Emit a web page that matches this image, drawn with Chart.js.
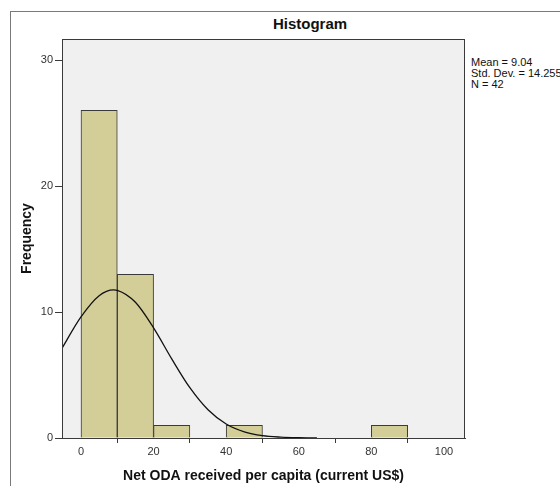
<!DOCTYPE html>
<html>
<head>
<meta charset="utf-8">
<script src="https://cdn.jsdelivr.net/npm/chart.js@4"></script>
<style>
  html, body { margin: 0; padding: 0; background: #fff; }
  #wrap { position: relative; width: 560px; height: 486px; overflow: hidden; }
  #frame { position: absolute; left: 10px; top: 11px; width: 600px; height: 600px;
           border-left: 1px solid #7a7a7a; border-top: 1px solid #7a7a7a; }
  #title { position: absolute; left: 200px; width: 220px; top: 15px; text-align: center;
           font: bold 15px "Liberation Sans", Arial, sans-serif; color: #111; }
  #stats { position: absolute; left: 471px; top: 57px; white-space: nowrap;
           font: 11px "Liberation Sans", Arial, sans-serif; color: #111; line-height: 11px; }
  canvas { position: absolute; left: 0; top: 0; }
</style>
</head>
<body>
<div id="wrap">
  <div id="frame"></div>
  <div id="title">Histogram</div>
  <div id="stats">Mean = 9.04<br>Std. Dev. = 14.255<br>N = 42</div>
  <canvas id="hist" width="560" height="486"></canvas>
</div>
<script>
// bins (centre of each 10-wide bin) and their counts
const binCenters = [5, 15, 25, 45, 85];
const counts = [26, 13, 1, 1, 1];

// fitted normal curve
const curveX = [-5.3, -5, 0, 5, 9, 10, 15, 20, 25, 30, 35, 40, 45, 50, 55, 60, 65];
const curveY = [7.08, 7.23, 9.61, 11.29, 11.75, 11.72, 10.77, 8.74, 6.28, 3.99, 2.24, 1.11, 0.49, 0.19, 0.07, 0.02, 0.0];

const xTicks = [0, 20, 40, 60, 80, 100];
const yTicks = [0, 10, 20, 30];

const plotBox = {
    id: 'plotBox',
    beforeDraw(chart) {
        const { ctx, chartArea: a } = chart;
        ctx.save();
        ctx.fillStyle = '#f0f0f0';
        ctx.fillRect(a.left, a.top, a.right - a.left, a.bottom - a.top);
        ctx.restore();
    },
    afterDraw(chart) {
        const { ctx, chartArea: a } = chart;
        ctx.save();
        ctx.strokeStyle = '#3a3a3a';
        ctx.lineWidth = 1;
        ctx.strokeRect(a.left + 0.5, a.top + 0.5, a.right - a.left - 1, a.bottom - a.top);
        ctx.restore();
    }
};

const tickFont = { family: 'Liberation Sans', size: 11 };

new Chart(document.getElementById('hist'), {
    type: 'bar',
    data: {
        datasets: [{
            type: 'line',
            data: curveX.map((x, i) => ({ x: x, y: curveY[i] })),
            borderColor: '#111',
            borderWidth: 1.3,
            pointRadius: 0,
            tension: 0.4,
            cubicInterpolationMode: 'monotone',
            order: 0
        }, {
            data: binCenters.map((x, i) => ({ x: x, y: counts[i] })),
            backgroundColor: '#d3ce97',
            borderColor: '#3a3a3a',
            borderWidth: 1,
            borderSkipped: 'bottom',
            barPercentage: 1,
            categoryPercentage: 1,
            order: 1
        }]
    },
    options: {
        responsive: false,
        animation: false,
        layout: { padding: { top: 39, right: 95, left: 0, bottom: 0 } },
        plugins: { legend: { display: false }, tooltip: { enabled: false } },
        scales: {
            x: {
                type: 'linear',
                min: -5.23,
                max: 105.8,
                offset: false,
                afterBuildTicks(s) { s.ticks = xTicks.map(v => ({ value: v })); },
                afterFit(s) { s.height = 48; },
                grid: { drawOnChartArea: false, tickLength: 5, color: '#3a3a3a' },
                border: { color: '#3a3a3a' },
                ticks: { font: tickFont, color: '#333', padding: 2, maxRotation: 0 },
                title: {
                    display: true,
                    text: 'Net ODA received per capita (current US$)',
                    font: { family: 'Liberation Sans', size: 14, weight: 'bold' },
                    color: '#111',
                    padding: { top: 4, bottom: 1 }
                }
            },
            y: {
                min: 0,
                max: 31.67,
                afterBuildTicks(s) { s.ticks = yTicks.map(v => ({ value: v })); },
                afterFit(s) { s.width = 62; },
                grid: { drawOnChartArea: false, tickLength: 7, color: '#3a3a3a' },
                border: { color: '#3a3a3a' },
                ticks: { font: tickFont, color: '#333', padding: 2 },
                title: {
                    display: true,
                    text: 'Frequency',
                    font: { family: 'Liberation Sans', size: 14, weight: 'bold' },
                    color: '#111',
                    padding: { top: 19, bottom: 0 }
                }
            }
        }
    },
    plugins: [plotBox]
});
</script>
</body>
</html>
